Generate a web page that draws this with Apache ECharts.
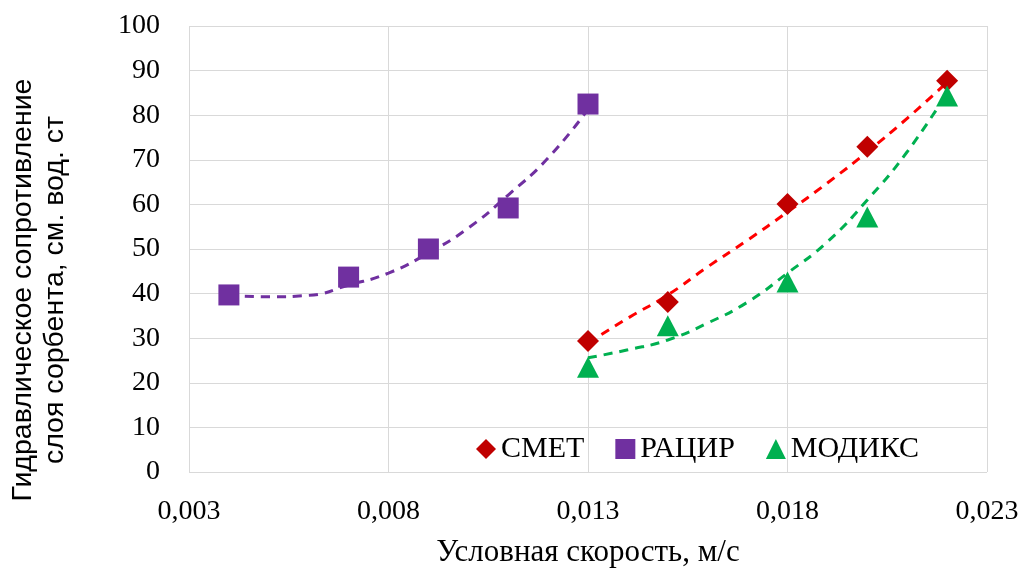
<!DOCTYPE html>
<html><head><meta charset="utf-8">
<script src="https://cdn.jsdelivr.net/npm/echarts@6/dist/echarts.min.js"></script>
<style>html,body{margin:0;padding:0;background:#fff}#c{width:1024px;height:570px}</style>
</head><body><div id="c"></div>
<script>
// Measured points
const smetX = [0.013, 0.015, 0.018, 0.020, 0.022];
const smetY = [29.4, 38.1, 60.1, 72.9, 87.7];
const racirX = [0.004, 0.007, 0.009, 0.011, 0.013];
const racirY = [39.7, 43.7, 50.0, 59.2, 82.5];
const modiksX = [0.013, 0.015, 0.018, 0.020, 0.022];
const modiksY = [23.5, 32.8, 42.6, 57.2, 84.3];
// Trend lines
const racirTrendX = [0.004, 0.005, 0.006, 0.007, 0.008, 0.009, 0.010, 0.011, 0.012, 0.013];
const racirTrendY = [39.5, 39.3, 39.6, 41.9, 44.6, 49.1, 54.7, 62.1, 70.4, 81.3];
const smetTrendX = [0.013, 0.014, 0.015, 0.016, 0.017, 0.018, 0.019, 0.020, 0.021, 0.022];
const smetTrendY = [28.9, 34.5, 39.7, 46.0, 52.0, 58.3, 64.8, 71.8, 79.3, 87.4];
const modiksTrendX = [0.013, 0.014, 0.015, 0.016, 0.017, 0.018, 0.019, 0.020, 0.021, 0.022];
const modiksTrendY = [25.6, 27.4, 29.6, 33.4, 38.1, 44.6, 51.6, 61.0, 71.8, 85.0];
const seriesNames = ['СМЕТ', 'РАЦИР', 'МОДИКС'];
const xTitle = 'Условная скорость, м/с';
const yTitle = 'Гидравлическое сопротивление\nслоя сорбента, см. вод. ст';

const zip = (a, b) => a.map((v, i) => [v, b[i]]);
const serif = 'Liberation Serif';
const chart = echarts.init(document.getElementById('c'));
const trend = (xs, ys, color) => ({
  type: 'line', data: zip(xs, ys), smooth: true, symbol: 'none', silent: true,
  lineStyle: {color: color, width: 3, type: [9, 7]}, z: 2
});
chart.setOption({
  animation: false,
  grid: {left: 189, right: 37, top: 26, bottom: 98, containLabel: false, outerBoundsMode: 'none'},
  graphic: [{
    type: 'text', x: 39, y: 290, rotation: Math.PI / 2,
    style: {text: yTitle, fontFamily: 'Liberation Sans', fontSize: 28.5, lineHeight: 32,
      fill: '#000', align: 'center', verticalAlign: 'middle'}
  }],
  legend: {
    data: seriesNames, left: 471, top: 429, itemGap: 31, itemWidth: 20, itemHeight: 20,
    textStyle: {fontFamily: serif, fontSize: 30, color: '#000'}
  },
  xAxis: {
    type: 'value', min: 0.003, max: 0.023, interval: 0.005,
    name: xTitle, nameLocation: 'middle', nameGap: 65,
    nameTextStyle: {fontFamily: serif, fontSize: 31, color: '#000'},
    axisLine: {show: false}, axisTick: {show: false},
    splitLine: {lineStyle: {color: '#d9d9d9', width: 1}},
    axisLabel: {fontFamily: serif, fontSize: 28, color: '#000', margin: 26,
      formatter: v => v.toFixed(3).replace('.', ',')}
  },
  yAxis: {
    type: 'value', min: 0, max: 100, interval: 10,
    axisLine: {show: false}, axisTick: {show: false},
    splitLine: {lineStyle: {color: '#d9d9d9', width: 1}},
    axisLabel: {fontFamily: serif, fontSize: 28, color: '#000', margin: 29}
  },
  series: [
    trend(racirTrendX, racirTrendY, '#7030A0'),
    trend(smetTrendX, smetTrendY, '#FF0000'),
    trend(modiksTrendX, modiksTrendY, '#00B050'),
    {name: seriesNames[0], type: 'scatter', data: zip(smetX, smetY), symbol: 'diamond', symbolSize: [22, 22],
      itemStyle: {color: '#C00000', opacity: 1}, z: 3},
    {name: seriesNames[1], type: 'scatter', data: zip(racirX, racirY), symbol: 'rect', symbolSize: 21,
      itemStyle: {color: '#7030A0', opacity: 1}, z: 3},
    {name: seriesNames[2], type: 'scatter', data: zip(modiksX, modiksY), symbol: 'triangle', symbolSize: [22, 21],
      itemStyle: {color: '#00B050', opacity: 1}, z: 3}
  ]
});
</script></body></html>
